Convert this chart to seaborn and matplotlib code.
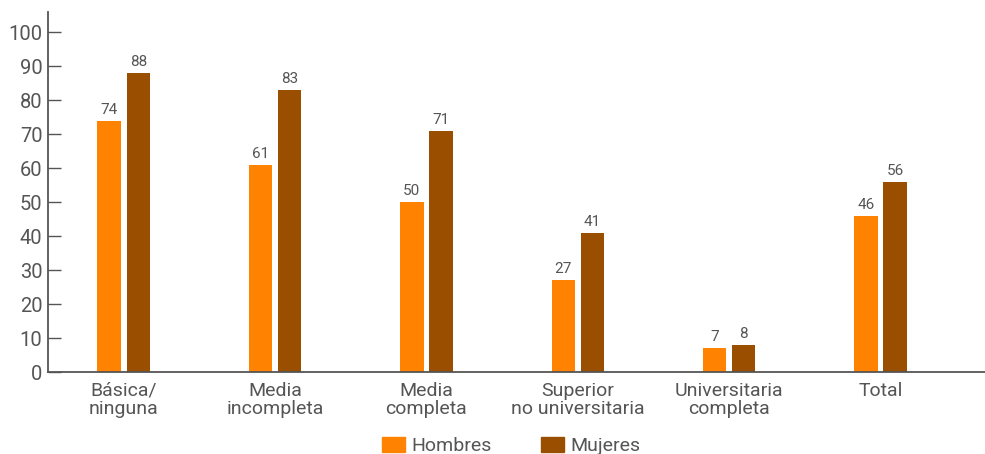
import pandas as pd
import seaborn as sns
import matplotlib.pyplot as plt

# Datos
categorias = ['Básica/\nninguna', 'Media\nincompleta', 'Media\ncompleta',
              'Superior\nno universitaria', 'Universitaria\ncompleta', 'Total']
hombres = [74, 61, 50, 27, 7, 46]
mujeres = [88, 83, 71, 41, 8, 56]
series = ['Hombres', 'Mujeres']
colores = ['#FF8300', '#9A4E00']

df = pd.DataFrame({
    'categoria': categorias * 2,
    'sexo': [series[0]] * len(categorias) + [series[1]] * len(categorias),
    'valor': hombres + mujeres,
})

sns.set_style('white')
plt.rcParams['font.family'] = ['Roboto', 'DejaVu Sans']
gris = '#555555'

fig = plt.figure(figsize=(9.85, 4.54), dpi=100)
ax = fig.add_axes([48 / 985, 1 - 372 / 454, 1 - 48 / 985, 360 / 454])

sns.barplot(data=df, x='categoria', y='valor', hue='sexo', palette=colores,
            saturation=1, width=0.385, gap=0.2, linewidth=0, ax=ax, legend=False)

for cont in ax.containers:
    ax.bar_label(cont, padding=3, fontsize=11, color=gris)

ax.set_ylim(0, 106)
ax.set_xlim(-0.5, 5.69)
ax.set_yticks(range(0, 101, 10))
ax.set_xlabel('')
ax.set_ylabel('')
ax.tick_params(axis='y', left=True, direction='in', length=9, width=1, color=gris,
               labelsize=14.5, labelcolor=gris, pad=4)
ax.tick_params(axis='x', length=0, labelsize=14, labelcolor=gris, pad=7)
for lab in ax.get_xticklabels():
    lab.set_linespacing(1.05)

sns.despine(ax=ax, top=True, right=True)
ax.spines['left'].set_color(gris)
ax.spines['bottom'].set_color(gris)
ax.spines['left'].set_linewidth(1.3)
ax.spines['bottom'].set_linewidth(1.3)

handles = [plt.Rectangle((0, 0), 1, 1, color=c) for c in colores]
fig.legend(handles, series, loc='center', bbox_to_anchor=(511 / 985, 1 - 446 / 454),
           ncol=2, frameon=False, fontsize=14, labelcolor=gris,
           handlelength=1.2, handleheight=0.85, handletextpad=0.3, columnspacing=2.55)

fig.savefig('out.png', dpi=100)
